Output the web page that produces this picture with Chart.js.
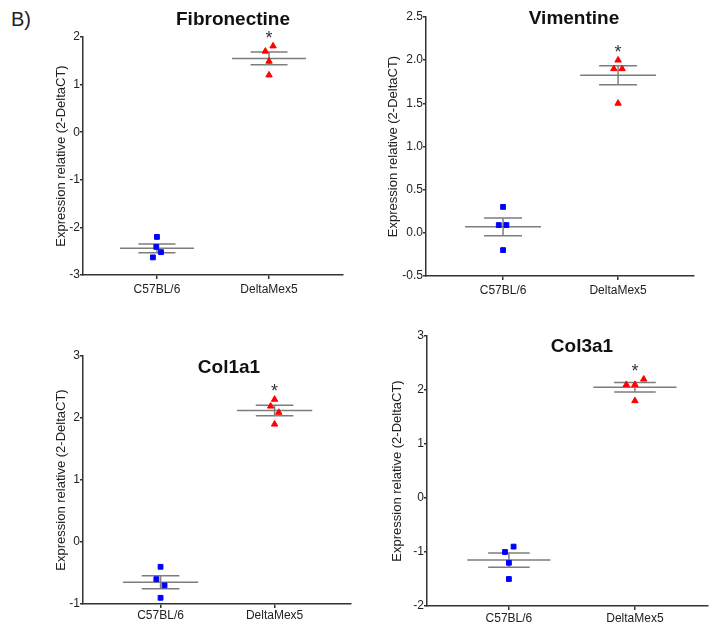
<!DOCTYPE html>
<html>
<head>
<meta charset="utf-8">
<script src="https://cdn.jsdelivr.net/npm/chart.js@4"></script>
<style>
  body { margin: 0; background: #fff; width: 713px; height: 628px; position: relative; overflow: hidden; font-family: "Liberation Sans", Arial, sans-serif; }
  canvas { position: absolute; }
  #tag { position: absolute; left: 11px; top: 8px; font-size: 20px; color: #222; }
</style>
</head>
<body>
<div id="tag">B)</div>
<canvas id="fibronectine" width="356" height="310" style="left:0;top:0"></canvas>
<canvas id="vimentine" width="357" height="310" style="left:356px;top:0"></canvas>
<canvas id="col1a1" width="356" height="318" style="left:0;top:310px"></canvas>
<canvas id="col3a1" width="357" height="318" style="left:356px;top:310px"></canvas>
<script>
const groupes = ['C57BL/6', 'DeltaMex5'];

// valeurs (4 souris par groupe)
const fibroC57 = [-2.2, -2.41, -2.52, -2.63];
const fibroMex = [1.81, 1.70, 1.49, 1.20];
const vimC57 = [0.30, 0.09, 0.09, -0.20];
const vimMex = [2.00, 1.90, 1.90, 1.50];
const col1C57 = [-0.40, -0.60, -0.70, -0.90];
const col1Mex = [2.30, 2.19, 2.09, 1.90];
const col3C57 = [-0.90, -1.00, -1.20, -1.50];
const col3Mex = [2.10, 2.10, 2.20, 1.80];

// décalage horizontal des points (en unités de groupe)
const decalFibroC57 = [0, -0.006, 0.036, -0.036];
const decalFibroMex = [0.036, -0.033, 0, 0];
const decalVimC57 = [0, -0.037, 0.029, 0];
const decalVimMex = [0, -0.037, 0.035, 0];
const decalCol1C57 = [0, -0.037, 0.035, 0];
const decalCol1Mex = [0, -0.035, 0.037, 0];
const decalCol3C57 = [0.037, -0.031, 0, 0];
const decalCol3Mex = [-0.068, 0, 0.07, 0];

// graduations de l'axe y
const ticksFibro = [-3, -2, -1, 0, 1, 2];
const ticksVim = [-0.5, 0, 0.5, 1, 1.5, 2, 2.5];
const ticksCol1 = [-1, 0, 1, 2, 3];
const ticksCol3 = [-2, -1, 0, 1, 2, 3];

Chart.defaults.font.family = '"Liberation Sans", Arial, sans-serif';

function moyenne(a) {
  return a.reduce((s, v) => s + v, 0) / a.length;
}

function sem(a) {
  const m = moyenne(a);
  const sd = Math.sqrt(a.reduce((s, v) => s + (v - m) ** 2, 0) / (a.length - 1));
  return sd / Math.sqrt(a.length);
}

function barres(x, valeurs) {
  const m = moyenne(valeurs);
  const e = sem(valeurs);
  return [
    [{ x: x - 0.33, y: m }, { x: x + 0.33, y: m }],
    [{ x: x - 0.165, y: m + e }, { x: x + 0.165, y: m + e }],
    [{ x: x - 0.165, y: m - e }, { x: x + 0.165, y: m - e }],
    [{ x: x, y: m - e }, { x: x, y: m + e }]
  ].map(d => ({
    type: 'line', data: d, borderColor: '#7d7d7d', borderWidth: 1.5,
    pointRadius: 0, order: 2
  }));
}

const textePanneau = {
  id: 'textePanneau',
  afterDraw(chart, args, opts) {
    const ctx = chart.ctx;
    ctx.save();
    ctx.fillStyle = '#111';
    ctx.textAlign = 'center';
    ctx.textBaseline = 'middle';
    ctx.font = 'bold 19px "Liberation Sans", Arial, sans-serif';
    ctx.fillText(opts.titre, opts.titreX, opts.titreY);
    ctx.fillStyle = '#333';
    ctx.textBaseline = 'alphabetic';
    ctx.font = '18px "Liberation Sans", Arial, sans-serif';
    const yMax = chart.scales.y.getPixelForValue(Math.max(...opts.etoile));
    ctx.fillText('*', chart.scales.x.getPixelForValue(2), yMax - 2);
    ctx.restore();
  }
};

function dessiner(id, p) {
  const points = (vals, decal, x) => vals.map((v, i) => ({ x: x + decal[i], y: v }));
  new Chart(document.getElementById(id), {
    type: 'scatter',
    data: {
      datasets: [
        {
          data: points(p.c57, p.decalC57, 1), pointStyle: 'rect', pointRadius: 3.4,
          backgroundColor: '#0000ff', borderColor: '#0000ff', borderWidth: 1, order: 1
        },
        {
          data: points(p.mex, p.decalMex, 2), pointStyle: 'triangle', pointRadius: 3.7,
          backgroundColor: '#ff0000', borderColor: '#ff0000', borderWidth: 1, order: 1
        },
        ...barres(1, p.c57),
        ...barres(2, p.mex)
      ]
    },
    options: {
      responsive: false,
      animation: false,
      layout: { padding: p.padding },
      plugins: {
        legend: { display: false },
        tooltip: { enabled: false },
        textePanneau: { titre: p.titre, titreX: p.titreX, titreY: p.titreY, etoile: p.mex }
      },
      scales: {
        x: {
          type: 'linear', min: p.xMin, max: p.xMax,
          afterBuildTicks: s => { s.ticks = [{ value: 1 }, { value: 2 }]; },
          afterFit: s => { s.height = p.xHauteur; },
          ticks: { callback: v => groupes[v - 1], color: '#222', font: { size: 12 }, padding: p.xPad, maxRotation: 0, autoSkip: false },
          grid: { drawOnChartArea: false, tickLength: 4, color: '#333', lineWidth: 1.5 },
          border: { color: '#333', width: 1.5 }
        },
        y: {
          min: p.yTicks[0], max: p.yTicks[p.yTicks.length - 1],
          afterBuildTicks: s => { s.ticks = p.yTicks.map(v => ({ value: v })); },
          afterFit: s => { s.width = p.yLargeur; },
          ticks: { callback: v => p.decimales ? v.toFixed(1) : String(v), color: '#222', font: { size: 12 }, padding: 0 },
          grid: { drawOnChartArea: false, tickLength: 3, color: '#333', lineWidth: 1.5 },
          border: { color: '#333', width: 1.5 },
          title: {
            display: true, text: 'Expression relative (2-DeltaCT)', color: '#222',
            font: { size: 13 }, padding: { top: p.titrePad, bottom: 0 }
          }
        }
      }
    },
    plugins: [textePanneau]
  });
}

dessiner('fibronectine', {
  titre: 'Fibronectine', titreX: 233, titreY: 20,
  c57: fibroC57, mex: fibroMex, decalC57: decalFibroC57, decalMex: decalFibroMex,
  yTicks: ticksFibro, decimales: false,
  xMin: 0.34, xMax: 2.66, padding: { top: 37, right: 13, left: 0, bottom: 0 },
  yLargeur: 83, xHauteur: 35, titrePad: 54, xPad: 3
});

dessiner('vimentine', {
  titre: 'Vimentine', titreX: 218, titreY: 19,
  c57: vimC57, mex: vimMex, decalC57: decalVimC57, decalMex: decalVimMex,
  yTicks: ticksVim, decimales: true,
  xMin: 0.33, xMax: 2.66, padding: { top: 17, right: 19, left: 0, bottom: 0 },
  yLargeur: 70, xHauteur: 34, titrePad: 30, xPad: 3
});

dessiner('col1a1', {
  titre: 'Col1a1', titreX: 229, titreY: 58,
  c57: col1C57, mex: col1Mex, decalC57: decalCol1C57, decalMex: decalCol1Mex,
  yTicks: ticksCol1, decimales: false,
  xMin: 0.32, xMax: 2.67, padding: { top: 46, right: 3, left: 0, bottom: 0 },
  yLargeur: 83, xHauteur: 24, titrePad: 54, xPad: 0
});

dessiner('col3a1', {
  titre: 'Col3a1', titreX: 226, titreY: 37,
  c57: col3C57, mex: col3Mex, decalC57: decalCol3C57, decalMex: decalCol3Mex,
  yTicks: ticksCol3, decimales: false,
  xMin: 0.35, xMax: 2.58, padding: { top: 26, right: 1, left: 0, bottom: 0 },
  yLargeur: 71, xHauteur: 22, titrePad: 34, xPad: 1
});
</script>
</body>
</html>
